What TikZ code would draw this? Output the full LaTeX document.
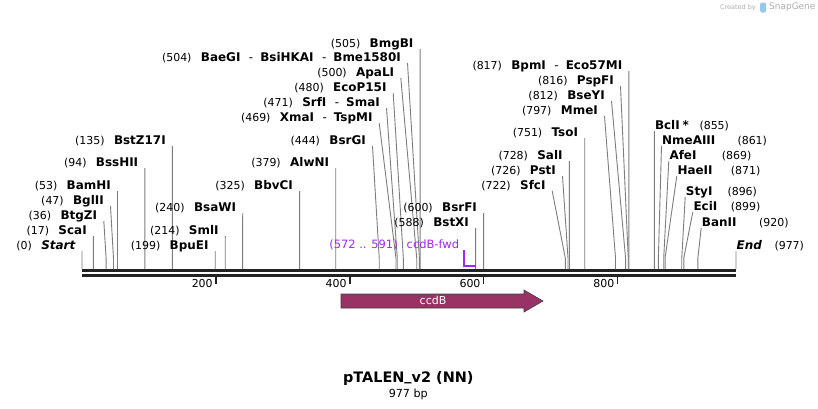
\documentclass[tikz,border=0pt]{standalone}
\usepackage{fontspec}
\setmainfont{DejaVu Sans}
\usetikzlibrary{positioning,calc}

\definecolor{cutgray}{RGB}{125,125,125}
\definecolor{backbonegray}{RGB}{34,34,34}
\definecolor{ccdbred}{RGB}{153,51,102}
\definecolor{primerviolet}{RGB}{160,40,240}
\definecolor{markgray}{RGB}{175,175,175}
\definecolor{markblue}{RGB}{150,200,235}

\newcommand{\alsocuts}{\hspace{8.5bp}{\mdseries -}\hspace{7bp}}

\begin{document}
\begin{tikzpicture}[x=1bp, y=-1bp,
    sitename/.style={font=\fontsize{12}{12}\selectfont\bfseries, inner sep=0pt, text height=8.7bp, text depth=0pt},
    sitepos/.style={font=\fontsize{11}{11}\selectfont, inner sep=0pt, text height=8.7bp, text depth=0pt},
    cutline/.style={cutgray, line width=0.9bp},
    backbone/.style={backbonegray, line width=3.2bp},
    tickmark/.style={backbonegray, line width=1.6bp},
    feature/.style={draw=black!75, fill=ccdbred, line width=0.6bp},
    primer/.style={primerviolet, line width=2bp}
]
    \useasboundingbox (0,0) rectangle (818,408);
    \fill[white] (0,0) rectangle (818,408);

    % Backbone
    \coordinate (bbstart) at (82,270.6);
    \coordinate (bbend) at (736,270.6);
    \draw[backbone] (bbstart) -- (bbend);
    \draw[backbone] ([yshift=-4.6bp]bbstart) -- ([yshift=-4.6bp]bbend);

    % Ruler
    \foreach \t in {200,400,600,800} {
        \coordinate (tick\t) at ({82+\t*0.6694},276.5);
        \draw[tickmark] (tick\t) -- ++(0,7);
        \node[sitepos, anchor=east] (ticklbl\t) at ([xshift=-3bp,yshift=-6.5bp]tick\t) {\t};
    }

    % Cut sites, label on the left
    \foreach \sitebp/\ex/\ty/\posnum/\enz [count=\i] in {
        0/75.5/245/0/{\itshape Start},
        17/86.9/230/17/ScaI,
        36/97.3/215/36/BtgZI,
        47/104/200/47/BglII,
        53/111.0/185/53/BamHI,
        94/138.4/162/94/BssHII,
        135/165.9/140/135/BstZ17I,
        199/208.7/245/199/BpuEI,
        214/218.8/230/214/SmlI,
        240/236.2/207/240/BsaWI,
        325/293.1/185/325/BbvCI,
        379/329.2/162/379/AlwNI,
        444/366/140/444/BsrGI,
        469/372.7/117/469/{XmaI\alsocuts TspMI},
        471/380/102/471/{SrfI\alsocuts SmaI},
        480/386.7/87/480/EcoP15I,
        500/394.3/72/500/ApaLI,
        504/401/57/504/{BaeGI\alsocuts BsiHKAI\alsocuts Bme1580I},
        505/413.6/43/505/BmgBI,
        588/469.1/222/588/BstXI,
        600/477.1/207/600/BsrFI,
        722/545.7/185/722/SfcI,
        726/556/170/726/PstI,
        728/562.8/155/728/SalI,
        751/578.2/132/751/TsoI,
        797/598/110/797/MmeI,
        812/605/95/812/BseYI,
        816/614/80/816/PspFI,
        817/622.4/65/817/{BpmI\alsocuts Eco57MI}
    }{
        \node[sitename, anchor=east] (name\i) at (\ex,\ty) {\enz};
        \node[sitepos, left=9bp of name\i] (num\i) {(\posnum)};
        \coordinate (bend\i) at ({82+\sitebp*0.6694},258);
        \coordinate (cut\i) at ({82+\sitebp*0.6694},269);
        \draw[cutline] ($(name\i.east)+(6.5,6)$) -- (bend\i) -- (cut\i);
    }

    % Cut sites, label on the right
    \foreach \sitebp/\wx/\ty/\nx/\posnum/\enz [count=\i] in {
        855/654.8/125/699.3/855/{BclI\hspace{3bp}*},
        861/662/140/737.3/861/NmeAIII,
        869/669.3/155/721.7/869/AfeI,
        871/677.3/170/730.7/871/HaeII,
        896/685.7/191/727.3/896/StyI,
        899/693.3/206/730.7/899/EciI,
        920/701.7/222/759/920/BanII,
        977/736.5/245/774.3/977/{\itshape End}
    }{
        \node[sitename, anchor=west] (rname\i) at (\wx,\ty) {\enz};
        \node[sitepos, anchor=west] (rnum\i) at (\nx,\ty) {(\posnum)};
        \coordinate (rbend\i) at ({82+\sitebp*0.6694},258);
        \coordinate (rcut\i) at ({82+\sitebp*0.6694},269);
        \draw[cutline] ($(rname\i.west)+(-0.5,6)$) -- (rbend\i) -- (rcut\i);
    }

    % ccdB feature
    \draw[feature] (341,294) -- (524,294) -- (524,290) -- (543,301) -- (524,312) -- (524,308) -- (341,308) -- cycle;
    \node[font=\fontsize{11}{11}\selectfont, text=white] (ccdB) at (433,300.5) {ccdB};

    % Primer
    \node[font=\fontsize{11.5}{11.5}\selectfont, text=primerviolet, inner sep=0pt, anchor=east] (fwdlbl) at (459.3,245) {(572 .. 591)\hspace{9bp}ccdB-fwd};
    \coordinate (fwdtop) at (463.5,250);
    \coordinate (fwdend) at (476,266);
    \draw[primer] (fwdtop) |- (fwdend);

    % Title
    \node[font=\fontsize{14.5}{14.5}\selectfont\bfseries, inner sep=0pt, text height=10.6bp, text depth=0pt] (title) at (408.3,377.5) {pTALEN\raisebox{2bp}{\_}v2 (NN)};
    \node[font=\fontsize{11.2}{11.2}\selectfont, inner sep=0pt, text height=8.2bp, text depth=0pt] (size) at (408.3,393) {977 bp};

    % Watermark
    \node[font=\fontsize{6.5}{6.5}\selectfont, text=markgray, inner sep=0pt, anchor=east] (createdby) at (756,7.5) {Created by};
    \fill[markblue, rounded corners=1.5bp] (760,2.5) rectangle (766,12.5);
    \node[font=\fontsize{9}{9}\selectfont, text=markgray, inner sep=0pt, anchor=west] (snapgene) at (769,7.5) {SnapGene};
\end{tikzpicture}
\end{document}
